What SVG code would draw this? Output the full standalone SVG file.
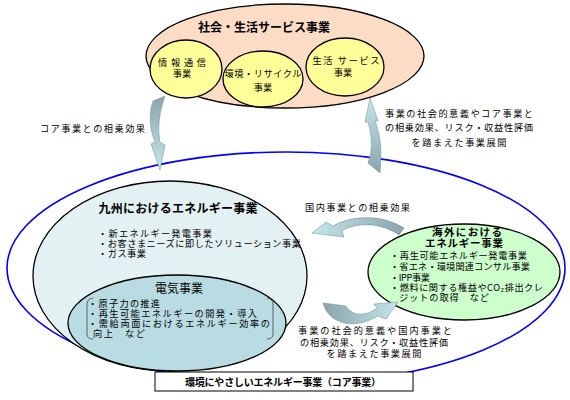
<svg xmlns="http://www.w3.org/2000/svg" width="570" height="400" viewBox="0 0 570 400">
<style>
text{font-family:"Noto Sans CJK JP","Liberation Sans",sans-serif;fill:#000;}
.t{font-size:9.2px;}
.b{font-size:12px;font-weight:bold;}
.g{font-size:10.5px;font-weight:bold;}
.m{text-anchor:middle;}
.el{stroke:#000;stroke-width:1.3;}
.arr{stroke:#6f8a90;stroke-width:0.5;}
</style>
<defs>
<linearGradient id="gDown" x1="0" y1="0" x2="0" y2="1"><stop offset="0" stop-color="#8aa4aa"/><stop offset="1" stop-color="#c4e6ec"/></linearGradient>
<linearGradient id="gUp" x1="0" y1="0" x2="0" y2="1"><stop offset="0" stop-color="#c4e6ec"/><stop offset="1" stop-color="#8aa4aa"/></linearGradient>
<linearGradient id="gLeft" x1="0" y1="0" x2="1" y2="0"><stop offset="0" stop-color="#c4e6ec"/><stop offset="1" stop-color="#8aa4aa"/></linearGradient>
<linearGradient id="gRight" x1="0" y1="0" x2="1" y2="0"><stop offset="0" stop-color="#8aa4aa"/><stop offset="1" stop-color="#c4e6ec"/></linearGradient>
</defs>

<g id="core-outer">
<ellipse cx="286" cy="268" rx="279" ry="116" fill="none" stroke="#0000ff" stroke-width="1.6"/>
</g>

<g id="social">
<ellipse class="el" cx="285" cy="56" rx="139" ry="52" fill="#fcdcc4"/>
<text class="b m" x="264" y="31.5">社会・生活サービス事業</text>
</g>
<g id="info">
<ellipse class="el" cx="186" cy="69" rx="36" ry="29" fill="#ffff99"/>
<text class="t m" x="182" y="65.5" textLength="48">情報通信</text>
<text class="t m" x="182" y="76.5">事業</text>
</g>
<g id="env">
<ellipse class="el" cx="263" cy="79" rx="40" ry="28" fill="#ffff99"/>
<text class="t m" x="263" y="76.5" textLength="77">環境・リサイクル</text>
<text class="t m" x="263" y="90.5">事業</text>
</g>
<g id="life">
<ellipse class="el" cx="345" cy="67" rx="39" ry="29" fill="#ffff99"/>
<text class="t m" x="346" y="63.5" textLength="67">生活 サービス</text>
<text class="t m" x="343" y="75.5">事業</text>
</g>

<g id="kyushu">
<ellipse class="el" cx="170" cy="276" rx="137" ry="95" fill="#e3f1f3"/>
<text class="b m" x="178" y="212.5" textLength="159">九州におけるエネルギー事業</text>
<text class="t" x="98" y="236.5" textLength="114">・新エネルギー発電事業</text>
<text class="t" x="98" y="246.5" textLength="203">・お客さまニーズに即したソリューション事業</text>
<text class="t" x="98" y="256.5" textLength="48">・ガス事業</text>
</g>

<g id="electric">
<ellipse class="el" cx="177" cy="323" rx="109" ry="48" fill="#b8dce2"/>
<text class="m" style="font-size:12px" x="179" y="292.5">電気事業</text>
<path d="M93,298 Q87,299 87,304 L87,334 Q87,339 93,339" fill="none" stroke="#444" stroke-width="0.8"/>
<path d="M267,298 Q273,299 273,304 L273,334 Q273,339 267,339" fill="none" stroke="#444" stroke-width="0.8"/>
<text class="t" x="88" y="306.5" textLength="72">・原子力の推進</text>
<text class="t" x="88" y="316.5" textLength="169">・再生可能エネルギーの開発・導入</text>
<text class="t" x="88" y="326.5" textLength="182">・需給両面におけるエネルギー効率の</text>
<text class="t" x="93" y="336.5" textLength="52">向上　など</text>
</g>

<g id="overseas">
<ellipse class="el" cx="464" cy="272" rx="96" ry="48" fill="#ccffcc"/>
<text class="g m" x="467" y="236" textLength="70">海外における</text>
<text class="g m" x="464" y="247" textLength="78">エネルギー事業</text>
<text class="t" x="390" y="258.5" textLength="137">・再生可能エネルギー発電事業</text>
<text class="t" x="390" y="269.5" textLength="140">・省エネ・環境関連コンサル事業</text>
<text class="t" x="390" y="280.5" textLength="40">・IPP事業</text>
<text class="t" x="390" y="290.5" textLength="153">・燃料に関する権益やCO₂排出クレ</text>
<text class="t" x="399" y="300.5" textLength="90">ジットの取得　など</text>
</g>

<g id="core-label">
<rect x="155" y="372" width="258" height="19" fill="#fff" stroke="#000" stroke-width="1"/>
<text class="m" style="font-size:10px;font-weight:bold" x="283" y="386" textLength="196">環境にやさしいエネルギー事業（コア事業）</text>
</g>

<g id="connectors">
<path class="arr" fill="url(#gDown)" d="M153,101 L165,96 C160,110 157,126 160,142 L165,145 L160,170 L151,144 L155,142 C149,128 149,112 153,101 Z"/>
<path class="arr" fill="url(#gUp)" d="M370,98 L378,121 L375,121 C381,136 382,152 380,173 L368,163 C373,150 372,136 368,122 L365,122 Z"/>
<path class="arr" fill="url(#gLeft)" d="M312,233 L326,222 L333,226 C352,215 382,214 404,228 L399,235 C380,222 356,222 342,231 L344,237 Z"/>
<path class="arr" fill="url(#gRight)" d="M323,303 C328,323 353,331 378,316 L386,319 L398,302 L374,304 L377,308 C365,317 352,316 346,306 Z"/>
<text class="t" x="40" y="131.5" textLength="105">コア事業との相乗効果</text>
<text class="t m" x="459" y="116.5" textLength="148">事業の社会的意義やコア事業と</text>
<text class="t m" x="459" y="130.5" textLength="148">の相乗効果、リスク・収益性評価</text>
<text class="t m" x="459" y="145.5" textLength="95">を踏まえた事業展開</text>
<text class="t" x="305" y="210.5" textLength="105">国内事業との相乗効果</text>
<text class="t m" x="375" y="333.5" textLength="154">事業の社会的意義や国内事業と</text>
<text class="t m" x="374" y="345.5" textLength="148">の相乗効果、リスク・収益性評価</text>
<text class="t m" x="374" y="356.5" textLength="95">を踏まえた事業展開</text>
</g>
</svg>
